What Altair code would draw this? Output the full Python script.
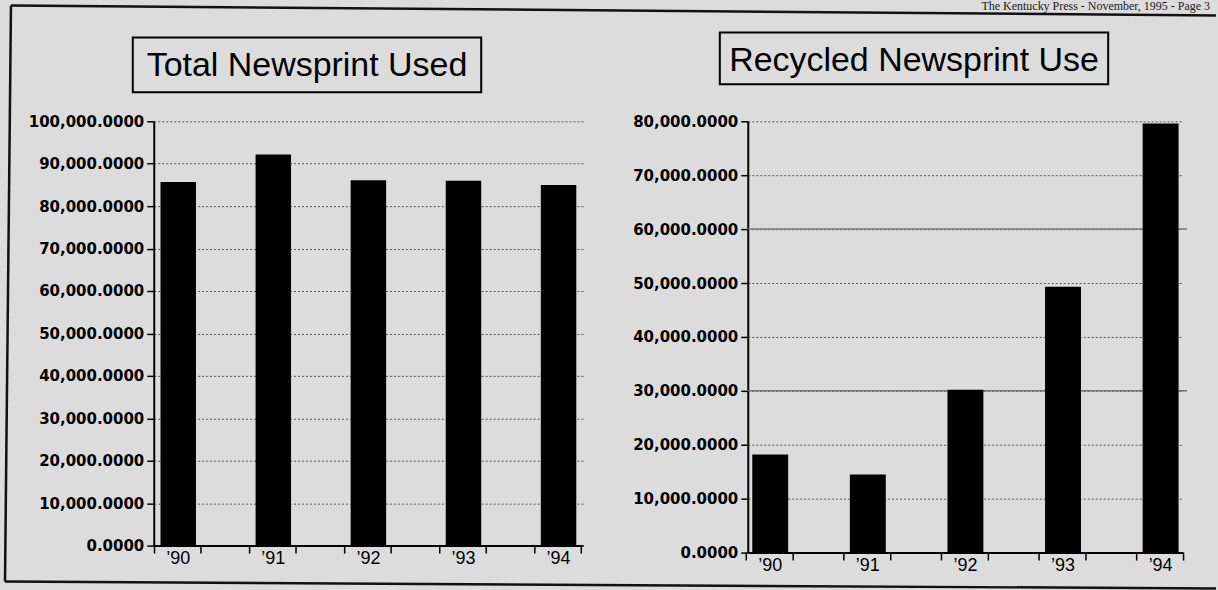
import altair as alt
import pandas as pd

# ---- data ----
years = ["\u201990", "\u201991", "\u201992", "\u201993", "\u201994"]
total_used = [85700, 92200, 86100, 86000, 85000]
recycled_use = [18200, 14500, 30200, 49300, 79600]
left_ticks = [0, 10000, 20000, 30000, 40000, 50000, 60000, 70000, 80000, 90000, 100000]
right_ticks = [0, 10000, 20000, 30000, 40000, 50000, 60000, 70000, 80000]
right_solid = [30000, 60000]
left_title = "Total Newsprint Used"
right_title = "Recycled Newsprint Use"
header = "The Kentucky Press - November, 1995 - Page 3"

BG = "#dcdcdc"
LW, LH = 430, 425
RW, RH = 436, 432

df_l = pd.DataFrame({"year": years, "value": total_used})
df_r = pd.DataFrame({"year": years, "value": recycled_use})
df_solid = pd.DataFrame({"value": right_solid})


def y_axis(vals):
    return alt.Axis(
        values=vals, format=",.4f", title=None, tickSize=7, tickColor="black",
        tickWidth=1.5, domainColor="black", domainWidth=2,
        labelFont="DejaVu Sans", labelFontSize=15, labelFontWeight="bold",
        labelColor="black", labelPadding=3, grid=True, gridDash=[2, 2],
        gridColor="#555555", gridWidth=1,
    )


x_axis = alt.Axis(
    title=None, labelAngle=0, ticks=False, domainColor="black", domainWidth=2,
    labelFont="Liberation Sans", labelFontSize=18, labelColor="black",
    labelPadding=4, grid=False,
)


def panel(df, ticks, W, H, pin, pout):
    xs = alt.Scale(paddingInner=pin, paddingOuter=pout)
    bars = alt.Chart(df).mark_bar(color="black").encode(
        x=alt.X("year:N", sort=years, scale=xs, axis=x_axis),
        y=alt.Y("value:Q", scale=alt.Scale(domain=[0, max(ticks)], nice=False, zero=True),
                axis=y_axis(ticks)),
    )
    tl = alt.Chart(df).mark_rule(color="black", strokeWidth=1.5, xOffset=-6).encode(
        x=alt.X("year:N", sort=years, scale=xs, axis=x_axis, bandPosition=0),
        y=alt.value(H), y2=alt.value(H + 8),
    )
    tr = alt.Chart(df).mark_rule(color="black", strokeWidth=1.5, xOffset=5).encode(
        x=alt.X("year:N", sort=years, scale=xs, axis=x_axis, bandPosition=1),
        y=alt.value(H), y2=alt.value(H + 8),
    )
    return bars, tl, tr


# ---------- left panel ----------
bars_l, tl_l, tr_l = panel(df_l, left_ticks, LW, LH, 0.627, 0.071)
one_l = pd.DataFrame({"t": [left_title]})
box_l = alt.Chart(one_l).mark_rect(fill=BG, stroke="black", strokeWidth=2).encode(
    x=alt.value(-21), x2=alt.value(328), y=alt.value(-84), y2=alt.value(-29))
txt_l = alt.Chart(one_l).mark_text(
    font="Liberation Sans", fontSize=34, align="center", baseline="alphabetic", color="black"
).encode(text="t:N", x=alt.value(153.5), y=alt.value(-45))

hdr = pd.DataFrame({"t": [header]})
header_txt = alt.Chart(hdr).mark_text(
    font="Liberation Serif", fontSize=12, align="right", baseline="alphabetic", color="#1a1a1a"
).encode(text="t:N", x=alt.value(1058), y=alt.value(-111))
bounds = alt.Chart(hdr).mark_rect(fill="white", fillOpacity=0).encode(
    x=alt.value(-154), x2=alt.value(1064), y=alt.value(-121), y2=alt.value(469))
frame_top = alt.Chart(hdr).mark_rule(color="#111", strokeWidth=2.5).encode(
    x=alt.value(-143), x2=alt.value(1064), y=alt.value(-116), y2=alt.value(-106))
frame_left = alt.Chart(hdr).mark_rule(color="#111", strokeWidth=2.5).encode(
    x=alt.value(-143), x2=alt.value(-149), y=alt.value(-116), y2=alt.value(461))
frame_bot = alt.Chart(hdr).mark_rule(color="#111", strokeWidth=2.5).encode(
    x=alt.value(-149), x2=alt.value(1064), y=alt.value(461), y2=alt.value(468))

left = alt.layer(
    bounds, frame_top, frame_left, frame_bot, header_txt,
    bars_l, tl_l, tr_l, box_l, txt_l
).properties(width=LW, height=LH)

# ---------- right panel ----------
bars_r, tl_r, tr_r = panel(df_r, right_ticks, RW, RH, 0.632, 0.046)
solid = alt.Chart(df_solid).mark_rule(color="#777777", strokeWidth=1.5).encode(
    y=alt.Y("value:Q"), x=alt.value(0), x2=alt.value(RW + 4))
one_r = pd.DataFrame({"t": [right_title]})
box_r = alt.Chart(one_r).mark_rect(fill=BG, stroke="black", strokeWidth=2).encode(
    x=alt.value(-28), x2=alt.value(361), y=alt.value(-89), y2=alt.value(-37))
txt_r = alt.Chart(one_r).mark_text(
    font="Liberation Sans", fontSize=34, align="center", baseline="alphabetic", color="black"
).encode(text="t:N", x=alt.value(166.5), y=alt.value(-50))

right = alt.layer(solid, bars_r, tl_r, tr_r, box_r, txt_r).properties(width=RW, height=RH)

chart = alt.hconcat(left, right, spacing=165, bounds="flush").properties(
    background=BG,
    padding=0,
    autosize=alt.AutoSizeParams(type="pad"),
).configure_view(stroke=None)

chart.save("out.html", embed_options={"renderer": "svg", "actions": False})
